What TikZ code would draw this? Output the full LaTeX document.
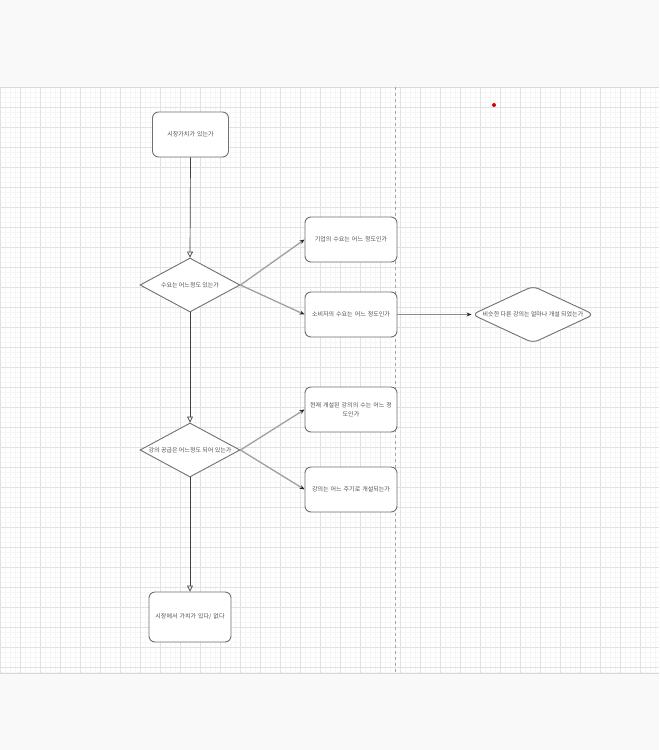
\documentclass[tikz,border=0pt]{standalone}
\usepackage{fontspec}
\newfontfamily\krfont{Noto Sans CJK KR}
\usetikzlibrary{shapes.geometric,arrows.meta}
\definecolor{outbg}{HTML}{F9F9F9}
\definecolor{minorgrid}{HTML}{F6F6F6}
\definecolor{majorgrid}{HTML}{E2E2E2}
\definecolor{shapeline}{HTML}{707070}
\definecolor{txtcol}{HTML}{505050}
\definecolor{diagline}{HTML}{A0A0A0}
\tikzset{
  box/.style={draw=shapeline, line width=0.9pt, rounded corners=6pt, fill=white,
    minimum width=92pt, minimum height=45pt, inner sep=2pt, text width=88pt, align=center,
    font=\krfont\fontsize{6}{8.5}\selectfont, text=txtcol},
  dia/.style={draw=shapeline, line width=0.9pt, shape=diamond, fill=white,
    minimum width=100pt, minimum height=54pt, inner sep=0pt},
  dtext/.style={font=\krfont\fontsize{6}{8.5}\selectfont, text=txtcol, inner sep=0pt},
  vline/.style={draw=black!75, line width=0.7pt, -{Triangle[open,length=6pt,width=6pt]}},
  gline/.style={draw=diagline, line width=1.3pt, -{Stealth[length=5pt,width=4pt,color=black!85,fill=black!85]}}
}
\begin{document}
\begin{tikzpicture}[x=1pt,y=-1pt]
\useasboundingbox (0,0) rectangle (659,750);
\fill[outbg] (0,0) rectangle (659,750);
\fill[white] (0,87) rectangle (659,673);
\foreach \gx in {5,10,...,655} \draw[minorgrid, line width=0.3pt] (\gx,87) -- (\gx,673);
\foreach \gy in {92,97,...,672} \draw[minorgrid, line width=0.3pt] (0,\gy) -- (659,\gy);
\foreach \gx in {0,20,...,640} \draw[majorgrid, line width=0.6pt] (\gx,87) -- (\gx,673);
\foreach \gy in {107,127,...,667} \draw[majorgrid, line width=0.6pt] (0,\gy) -- (659,\gy);
\draw[black!15, line width=1pt] (0,87) -- (659,87);
\draw[black!15, line width=1pt] (0,673) -- (659,673);
\draw[black!35, dashed, line width=0.6pt] (395,87) -- (395,673);
\fill[red!85!black] (494,105) circle (2);

\node[box, minimum width=75pt, text width=72pt] (b1) at (190.5,134.5) {시장가치가 있는가};
\node[dia] (d1) at (190,285) {};
\node[dtext] at (d1) {수요는 어느정도 있는가};
\node[box] (b2) at (351,239.5) {기업의 수요는 어느 정도인가};
\node[box] (b3) at (351,314.5) {소비자의 수요는 어느 정도인가};
\node[dia, rounded corners=6pt, minimum width=122pt, minimum height=57pt] (d2) at (533,314.5) {};
\node[dtext] at (d2) {비슷한 다른 강의는 얼마나 개설 되었는가};
\node[dia] (d3) at (190,450) {};
\node[dtext] at (d3) {강의 공급은 어느정도 되어 있는가};
\node[box] (b4) at (351,409.5) {현재 개설된 강의의 수는 어느 정\\도인가};
\node[box] (b5) at (351,489.5) {강의는 어느 주기로 개설되는가};
\node[box, minimum width=80pt, minimum height=50pt, text width=78pt] (b6) at (190,617) {시장에서 가치가 있다/ 없다};

\draw[vline] (b1.south) -- (d1.north);
\draw[vline] (d1.south) -- (d3.north);
\draw[vline] (d3.south) -- (b6.north);
\draw[gline] (d1.east) -- (b2.west);
\draw[gline] (d1.east) -- (b3.west);
\draw[gline, draw=black!45] (b3.east) -- (d2.west);
\draw[gline] (d3.east) -- (b4.west);
\draw[gline] (d3.east) -- (b5.west);
\end{tikzpicture}
\end{document}
